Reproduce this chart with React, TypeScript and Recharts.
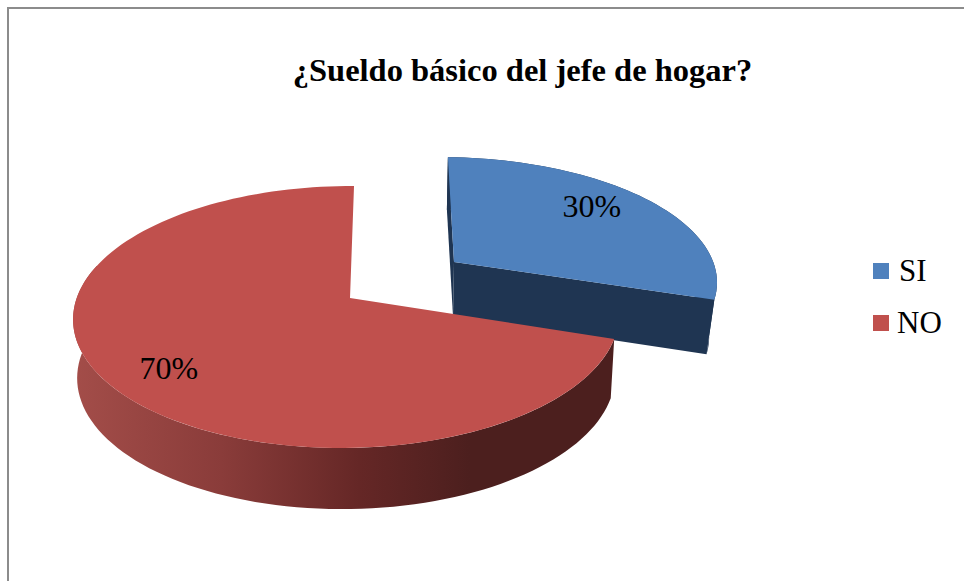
import React from "react";
import { PieChart, Pie, Legend } from "recharts";

const categories = ["SI", "NO"];
const shares = [30, 70];
const topColors = ["#4F81BD", "#C0504D"];
const title = "¿Sueldo básico del jefe de hogar?";

const slices = categories.map((name, i) => ({ name, value: shares[i], fill: topColors[i] }));

type Proj = { x0: number; y0: number; a: number; b: number; c: number; k: number; m: number };

const SERIF = "'Liberation Serif', serif";

// Perspective projection of the unit disc for each slice: [top face, bottom face]
const projections: Proj[][] = [
  [
    { x0: 454, y0: 262, a: 120, b: 267, c: -7, k: 0.145, m: 0.03 },
    { x0: 453, y0: 316, a: 122, b: 260, c: -7, k: 0.145, m: 0.03 },
  ],
  [
    { x0: 350, y0: 298, a: 128.2, b: 270, c: 4.6, k: 0.145, m: 0.012 },
    { x0: 352, y0: 357, a: 130, b: 266, c: 3, k: 0.145, m: 0.02 },
  ],
];

const project = (p: Proj, t: number, rho = 1) => {
  const rad = (t * Math.PI) / 180;
  const X = rho * Math.sin(rad);
  const Y = rho * Math.cos(rad);
  const w = 1 + p.k * Y + p.m * X;
  return { x: p.x0 + (p.b * X + p.c * Y) / w, y: p.y0 - (p.a * Y) / w };
};

const rim = (p: Proj, t0: number, t1: number) => {
  const n = Math.max(2, Math.ceil(Math.abs(t1 - t0) / 2));
  const pts: { x: number; y: number }[] = [];
  for (let i = 0; i <= n; i++) pts.push(project(p, t0 + ((t1 - t0) * i) / n));
  return pts;
};

const toPath = (pts: { x: number; y: number }[]) =>
  "M" + pts.map((q) => `${q.x.toFixed(2)},${q.y.toFixed(2)}`).join("L") + "Z";

const Slice3D = (props: any) => {
  const { startAngle, endAngle, index, fill } = props;
  const t0 = 90 - startAngle;
  const t1 = 90 - endAngle;
  const [top, bottom] = projections[index];
  const apexTop = project(top, 0, 0);
  const apexBottom = project(bottom, 0, 0);
  const topRim = rim(top, t0, t1);
  if (index === 0) {
    const side = "#1F3552";
    const bottomRim = rim(bottom, t0, t1);
    return (
      <g>
        <path d={toPath([...topRim, ...bottomRim.slice().reverse()])} fill={side} />
        <path d={toPath([apexTop, topRim[0], bottomRim[0], apexBottom])} fill={side} />
        <path
          d={toPath([apexTop, topRim[topRim.length - 1], bottomRim[bottomRim.length - 1], apexBottom])}
          fill={side}
        />
        <path d={toPath([apexTop, ...topRim])} fill={fill} />
      </g>
    );
  }
  const wallEnd = Math.min(t1, 285);
  const wallTop = rim(top, t0, wallEnd);
  const wallBottom = rim(bottom, t0, wallEnd);
  return (
    <g>
      <path d={toPath([...wallTop, ...wallBottom.slice().reverse()])} fill="url(#redWall)" />
      <path d={toPath([apexTop, ...topRim])} fill={fill} />
    </g>
  );
};

const labelRho = [0.7, 0.76];
const labelDy = [-10, 8];

const PercentLabel = (props: any) => {
  const { midAngle, percent, index } = props;
  const pos = project(projections[index][0], 90 - midAngle, labelRho[index]);
  return (
    <text
      x={pos.x}
      y={pos.y + labelDy[index]}
      textAnchor="middle"
      dominantBaseline="central"
      fontFamily={SERIF}
      fontSize={32}
      fill="#000"
    >
      {`${Math.round(percent * 100)}%`}
    </text>
  );
};

const LegendContent = ({ payload }: any) => (
  <div style={{ fontFamily: SERIF, fontSize: 31, color: "#000", lineHeight: "52px" }}>
    {(payload || []).map((e: any) => (
      <div key={e.value} style={{ display: "flex", alignItems: "center", height: 52 }}>
        <span style={{ display: "inline-block", width: 16, height: 16, background: e.color, marginRight: e.value === "SI" ? 10 : 8 }} />
        <span>{e.value}</span>
      </div>
    ))}
  </div>
);

export default function App() {
  return (
    <div style={{ position: "absolute", left: 0, top: 0, width: 964, height: 581, overflow: "hidden", background: "#fff" }}>
      <div
        style={{
          position: "absolute",
          left: 7,
          top: 7,
          right: 0,
          bottom: 0,
          borderLeft: "2px solid #8c8c8c",
          borderTop: "2px solid #8c8c8c",
        }}
      />
      <div style={{ position: "absolute", left: 0, top: 0 }}>
        <PieChart width={964} height={581} margin={{ top: 0, right: 0, bottom: 0, left: 0 }}>
          <defs>
            <linearGradient id="redWall" gradientUnits="userSpaceOnUse" x1={75} y1={0} x2={470} y2={0}>
              <stop offset="0%" stopColor="#A34D49" />
              <stop offset="37%" stopColor="#8A3C3A" />
              <stop offset="72%" stopColor="#652726" />
              <stop offset="100%" stopColor="#4C1F1E" />
            </linearGradient>
          </defs>
          <text
            x={522.5}
            y={70}
            textAnchor="middle"
            dominantBaseline="central"
            fontFamily={SERIF}
            fontWeight="bold"
            fontSize={32.5}
            fill="#000"
          >
            {title}
          </text>
          <Pie
            data={slices}
            dataKey="value"
            nameKey="name"
            cx={351}
            cy={298}
            outerRadius={270}
            startAngle={90}
            endAngle={-270}
            stroke="none"
            shape={Slice3D}
            label={PercentLabel}
            labelLine={false}
            isAnimationActive={false}
          />
          <Legend
            layout="vertical"
            align="left"
            verticalAlign="top"
            itemSorter={null}
            content={LegendContent}
            wrapperStyle={{ left: 873, top: 245, width: 91 }}
          />
        </PieChart>
      </div>
    </div>
  );
}
